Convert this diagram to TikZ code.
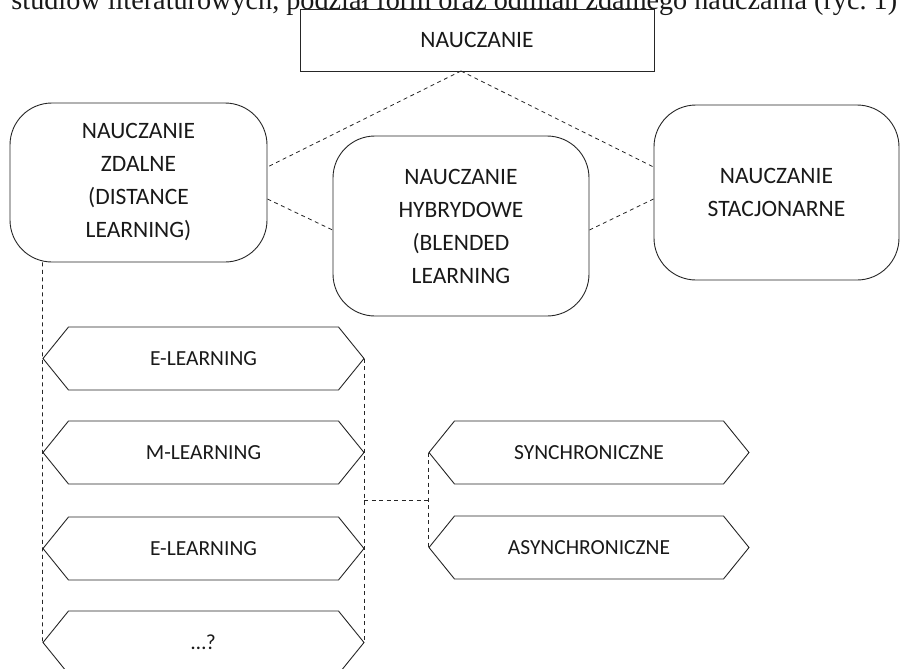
\documentclass[tikz,border=0pt]{standalone}
\usepackage{fontspec}
\setmainfont{Carlito}
\newfontfamily\tekstfont{Liberation Serif}
\usetikzlibrary{shapes.symbols}

\begin{document}
\begin{tikzpicture}[x=1pt,y=-1pt,line width=0.9pt,draw=black!85,text=black!90,
    linia/.style={dash pattern=on 4pt off 3.5pt,line width=0.8pt},
    forma/.style={draw,rounded corners=42pt,align=center,font=\fontsize{23.5}{33}\selectfont},
    odmiana/.style={draw,signal,signal to=east and west,signal pointer angle=102,
      minimum width=321pt,minimum height=63pt,inner sep=0pt,font=\fontsize{21.5}{25}\selectfont}]
  \useasboundingbox (0,0) rectangle (900,669);
  \node[anchor=base west,inner sep=0pt,font=\tekstfont\fontsize{28.2}{30}\selectfont] (tekst) at (11,9.5)
    {studiów literaturowych, podział form oraz odmian zdalnego nauczania (ryc.~1)};

  \node[draw,fill=white,minimum width=354pt,minimum height=62pt,font=\fontsize{23.5}{26}\selectfont] (nau) at (477,40) {NAUCZANIE};
  \node[forma,minimum width=257pt,minimum height=159pt] (zd) at (138.5,182.5) {NAUCZANIE\\ZDALNE\\(DISTANCE\\LEARNING)};
  \node[forma,minimum width=256pt,minimum height=180pt] (hy) at (461,226) {NAUCZANIE\\HYBRYDOWE\\(BLENDED\\LEARNING};
  \node[forma,minimum width=245pt,minimum height=175pt] (st) at (776.5,192.5) {NAUCZANIE\\STACJONARNE};

  \node[odmiana] (e1) at (203.5,358.5) {E-LEARNING};
  \node[odmiana] (m) at (203.5,452.5) {M-LEARNING};
  \node[odmiana] (e2) at (203.5,548.5) {E-LEARNING};
  \node[odmiana] (kropki) at (203.5,642.5) {…?};
  \node[odmiana,minimum width=320pt] (sy) at (589,452.5) {SYNCHRONICZNE};
  \node[odmiana,minimum width=320pt] (as) at (589,547.5) {ASYNCHRONICZNE};

  \coordinate (wierz) at (461,71);
  \draw[linia] (wierz) -- ([yshift=15.5pt]zd.east);
  \draw[linia] (wierz) -- ([yshift=25.5pt]st.west);
  \draw[linia] ([yshift=-16.5pt]zd.east) -- ([yshift=-4pt]hy.west);
  \draw[linia] ([yshift=-4pt]hy.east) -- ([yshift=-6.5pt]st.west);

  \draw[linia] ([xshift=33pt]zd.south west) -- (kropki.west);
  \draw[linia] (e1.east) -- (kropki.east);
  \coordinate (wezel) at (364,500);
  \draw[linia] (wezel) -- (wezel -| sy.west);
  \draw[linia] (sy.west) -- (as.west);
\end{tikzpicture}
\end{document}
